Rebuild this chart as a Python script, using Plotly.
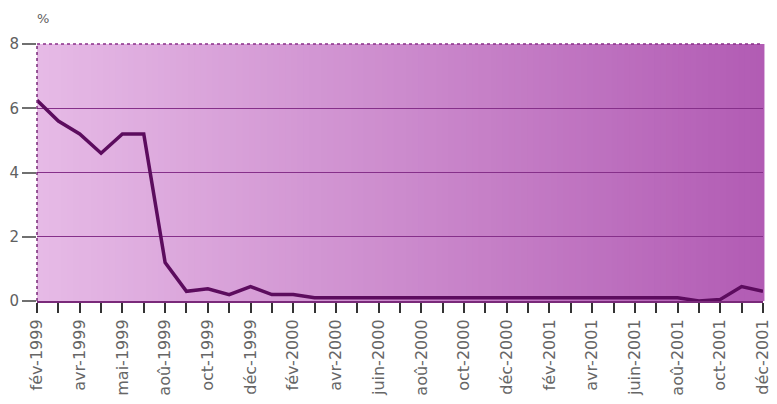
import plotly.graph_objects as go

# Monthly series, fév-1999 .. déc-2001 (35 months)
months = [
    "fév-1999", "mar-1999", "avr-1999", "mai-1999", "juin-1999", "juil-1999",
    "aoû-1999", "sep-1999", "oct-1999", "nov-1999", "déc-1999",
    "jan-2000", "fév-2000", "mar-2000", "avr-2000", "mai-2000", "juin-2000",
    "juil-2000", "aoû-2000", "sep-2000", "oct-2000", "nov-2000", "déc-2000",
    "jan-2001", "fév-2001", "mar-2001", "avr-2001", "mai-2001", "juin-2001",
    "juil-2001", "aoû-2001", "sep-2001", "oct-2001", "nov-2001", "déc-2001",
]
values = [
    6.25, 5.6, 5.2, 4.6, 5.2, 5.2, 1.2, 0.3, 0.38, 0.2, 0.45,
    0.2, 0.2, 0.1, 0.1, 0.1, 0.1, 0.1, 0.1, 0.1, 0.1, 0.1, 0.1,
    0.1, 0.1, 0.1, 0.1, 0.1, 0.1, 0.1, 0.1, 0.0, 0.05, 0.45, 0.3,
]
# Every other month gets a label
tick_labels = [
    "fév-1999", "", "avr-1999", "", "mai-1999", "", "aoû-1999", "", "oct-1999", "",
    "déc-1999", "", "fév-2000", "", "avr-2000", "", "juin-2000", "", "aoû-2000", "",
    "oct-2000", "", "déc-2000", "", "fév-2001", "", "avr-2001", "", "juin-2001", "",
    "aoû-2001", "", "oct-2001", "", "déc-2001",
]
y_ticks = [0, 2, 4, 6, 8]

# Horizontal gradient for the plot background: light lilac -> magenta
c0 = (230, 186, 230)
c1 = (178, 92, 180)
n_strips = 120
shapes = []
for i in range(n_strips):
    t = i / (n_strips - 1)
    col = tuple(round(a + (b - a) * t) for a, b in zip(c0, c1))
    shapes.append(dict(
        type="rect", xref="paper", yref="paper",
        x0=i / n_strips, x1=(i + 1) / n_strips + 0.002, y0=0, y1=1,
        fillcolor="rgb(%d,%d,%d)" % col, line=dict(width=0), layer="below",
    ))
# top border and left edge, dotted
shapes.append(dict(type="line", xref="paper", yref="paper", x0=0, x1=1, y0=1, y1=1,
                   line=dict(color="#8a2f8a", width=1.5, dash="dot"), layer="below"))
shapes.append(dict(type="line", xref="paper", yref="paper", x0=0, x1=0, y0=0, y1=1,
                   line=dict(color="#7a2a7a", width=1.5, dash="dot"), layer="above"))

fig = go.Figure()
fig.add_trace(go.Scatter(
    x=months, y=values, mode="lines",
    line=dict(color="#5c0c5e", width=3.5),
    hoverinfo="x+y", showlegend=False,
))

fig.update_layout(
    width=777, height=404,
    margin=dict(l=37, r=5, t=44, b=103),
    paper_bgcolor="white",
    plot_bgcolor="rgba(0,0,0,0)",
    shapes=shapes,
    font=dict(family="DejaVu Sans, sans-serif", color="#606060"),
    annotations=[dict(
        text="%", xref="paper", yref="paper", x=0, y=1, xanchor="center", yanchor="bottom",
        xshift=6, yshift=16, showarrow=False, font=dict(size=13, color="#606060"),
    )],
)
fig.update_xaxes(
    type="category", range=[0, len(months) - 1],
    tickmode="array", tickvals=months, ticktext=tick_labels,
    tickangle=-90, tickfont=dict(size=16, color="#666666"),
    ticks="outside", ticklen=10, tickwidth=2, tickcolor="#333333",
    showgrid=False, zeroline=False, showline=True, linecolor="#7a2a7a", linewidth=2,
)
fig.update_yaxes(
    range=[0, 8], tickvals=y_ticks, ticktext=[str(v) for v in y_ticks],
    tickfont=dict(size=15, color="#606060"),
    ticks="outside", ticklen=14, tickcolor="#707070", tickwidth=1.5,
    showgrid=True, gridcolor="#86308a", gridwidth=1.2,
    zeroline=False, showline=False,
)

fig.write_html("out.html")
